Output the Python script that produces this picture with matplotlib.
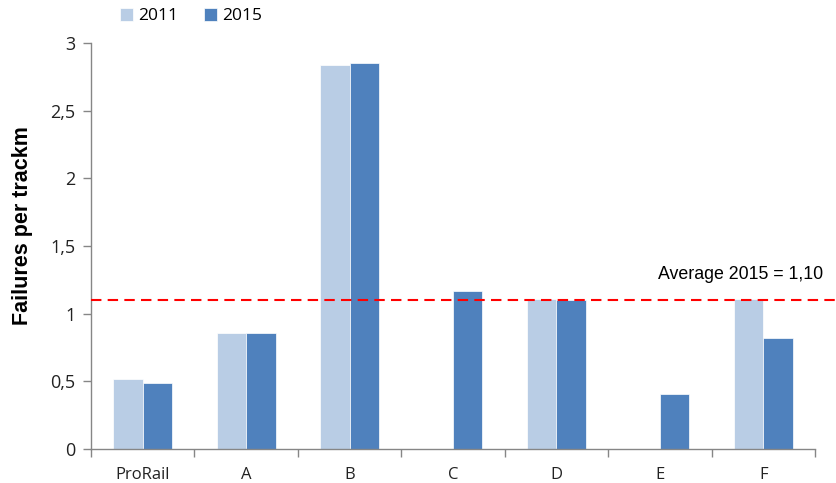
import matplotlib.pyplot as plt
import numpy as np
from matplotlib import font_manager
from matplotlib.transforms import blended_transform_factory

categories = ['ProRail', 'A', 'B', 'C', 'D', 'E', 'F']
values_2011 = [0.52, 0.86, 2.84, 0.0, 1.11, 0.0, 1.11]
values_2015 = [0.49, 0.86, 2.85, 1.17, 1.10, 0.41, 0.82]
average_2015 = 1.10
yticks = [0, 0.5, 1, 1.5, 2, 2.5, 3]
ytick_labels = ['0', '0,5', '1', '1,5', '2', '2,5', '3']

light = '#B9CDE5'
dark = '#4F81BD'
grey = '#868686'

names = {f.name for f in font_manager.fontManager.ttflist}
if 'Liberation Sans Narrow' in names:
    avg_font, avg_size = 'Liberation Sans Narrow', 15
else:
    avg_font, avg_size = 'Liberation Sans', 12.8

fig = plt.figure(figsize=(8.37, 4.83), dpi=100)
ax = fig.add_axes([91 / 837, 34 / 483, 724 / 837, 406 / 483])

index = np.arange(len(categories))
bar_width = 0.285
b1 = ax.bar(index - bar_width / 2, values_2011, bar_width, color=light, label='2011',
            edgecolor='white', linewidth=0.5)
b2 = ax.bar(index + bar_width / 2, values_2015, bar_width, color=dark, label='2015',
            edgecolor='white', linewidth=0.5)

ax.set_xlim(-0.5, len(categories) - 0.5)
ax.set_ylim(0, 3)

ax.axhline(average_2015, xmin=0, xmax=(837 - 91) / 724, color='#FF0000', linestyle=(0, (5, 3)),
           linewidth=1.5, clip_on=False, zorder=5)
trans = blended_transform_factory(ax.transAxes, ax.transData)
ax.text(1.011, 1.29, 'Average 2015 = 1,10', transform=trans, ha='right', va='center',
        fontsize=avg_size, family=avg_font, color='black')

ax.set_yticks(yticks)
ax.set_yticklabels(ytick_labels, fontsize=13, family='Open Sans', color='#222222')
ax.set_xticks(index)
ax.set_xticklabels(categories, fontsize=12, family='Open Sans', color='#222222')
ax.set_xticks(np.arange(-0.5, len(categories)), minor=True)
ax.tick_params(axis='x', which='major', length=0, pad=13)
ax.tick_params(axis='x', which='minor', length=6, color=grey, width=1)
ax.tick_params(axis='y', length=6, color=grey, width=1, pad=5)

for side in ['top', 'right']:
    ax.spines[side].set_visible(False)
for side in ['left', 'bottom']:
    ax.spines[side].set_color(grey)
    ax.spines[side].set_linewidth(1)

ax.set_ylabel('Failures per trackm', fontsize=15.5, fontweight='bold',
              family='Liberation Sans', va='center')
ax.yaxis.set_label_coords(-0.094, 0.55)

fig.legend(handles=[b1, b2], labels=['2011', '2015'], loc='center left',
           bbox_to_anchor=(104 / 837, 1 - 16 / 483), ncol=2, frameon=False,
           prop={'family': 'Open Sans', 'size': 12.5}, handlelength=0.75, handleheight=0.75,
           handletextpad=0.3, columnspacing=1.5)

fig.savefig('out.png', dpi=100)
